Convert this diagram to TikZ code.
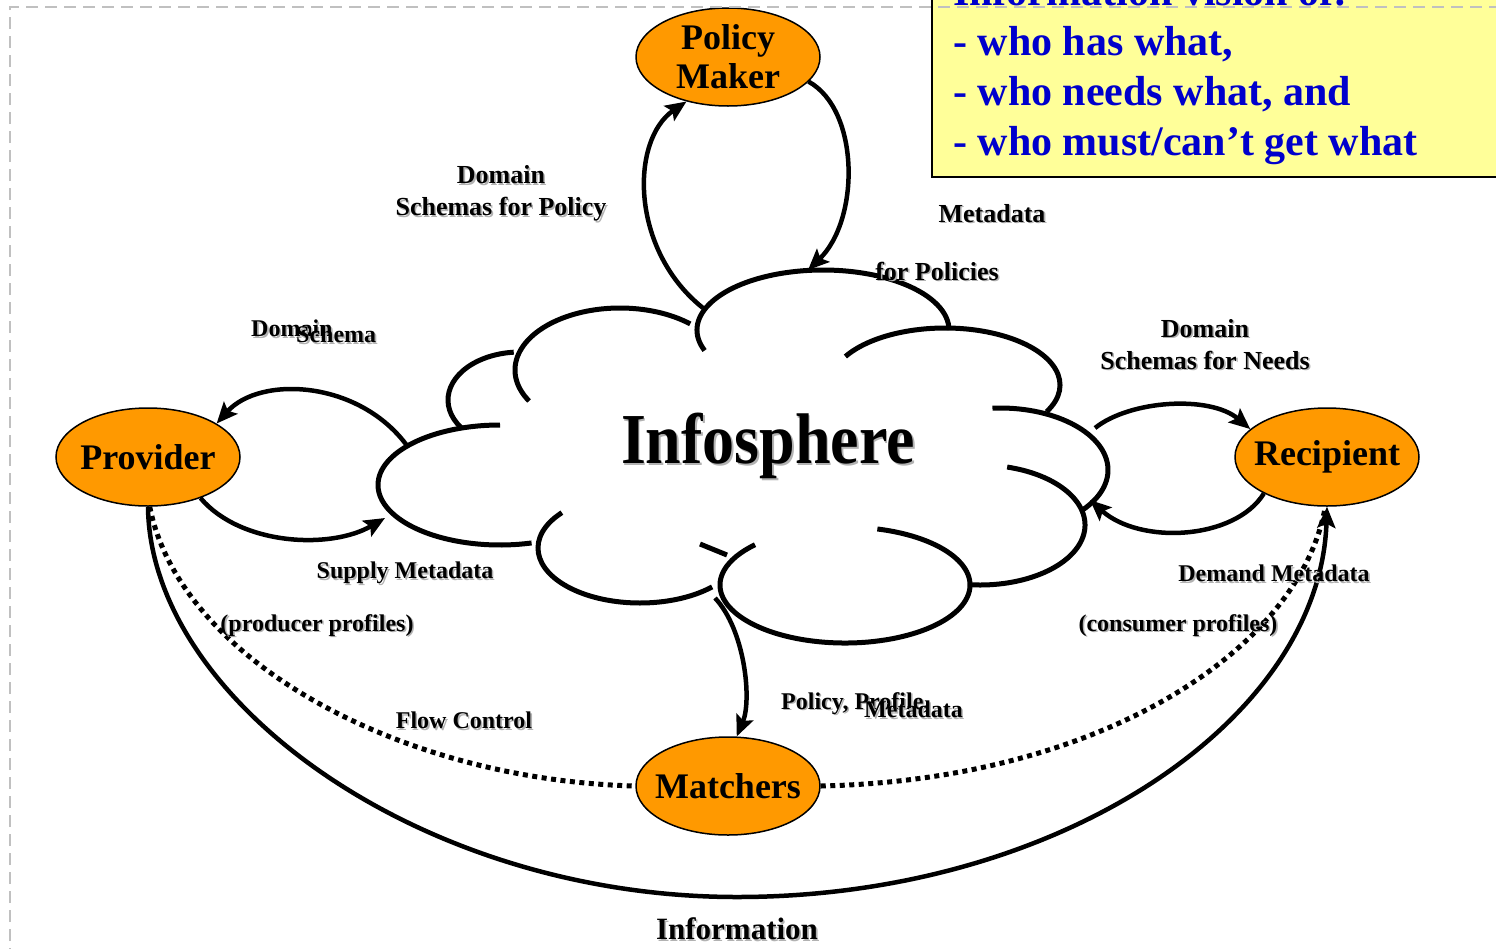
\documentclass[tikz,border=0pt]{standalone}
\usepackage{fontspec}
\setmainfont{Liberation Serif}
\usetikzlibrary{arrows.meta,shapes.geometric}

\definecolor{actorfill}{HTML}{FF9900}
\definecolor{notefill}{HTML}{FFFF99}
\definecolor{noteblue}{HTML}{0000CC}
\definecolor{framegray}{HTML}{C0C0C0}

\newcommand\shadowed[1]{\makebox[0pt][l]{\kern1.6pt\raisebox{-1.6pt}{\color{black!30}#1}}#1}

\tikzset{
    actor/.style={ellipse, draw, line width=1.5pt, fill=actorfill, minimum width=184pt,
        minimum height=98pt, inner xsep=-14pt, inner ysep=0pt, align=center,
        font=\fontsize{36}{39}\selectfont\bfseries},
    flow/.style={line width=4.5pt, -{Stealth[length=21pt,width=18pt,inset=4pt]}},
    dotflow/.style={line width=5pt, dash pattern=on 5pt off 4.5pt},
    cloudline/.style={line width=5pt},
    lab/.style={align=center, inner sep=0pt, font=\fontsize{24}{32}\selectfont\bfseries},
    toplab/.style={lab, font=\fontsize{26}{32}\selectfont\bfseries},
    note/.style={anchor=base west, inner sep=0pt, text=noteblue,
        font=\fontsize{42}{50}\selectfont\bfseries}
}

\begin{document}
\begin{tikzpicture}[x=1pt, y=-1pt]
    \path[use as bounding box] (0,0) rectangle (1496,948);
    \clip (0,0) rectangle (1496,948);

    \draw[line width=2.5pt, fill=notefill] (932,-20) rectangle (1520,177);
    \foreach \txt [count=\i from 0] in {{Information vision of:}, {- who has what,},
        {- who needs what, and}, {- who must/can’t get what}}
        \node[note] (note\i) at (953,5+50*\i) {\txt};

    \foreach \cx/\cy/\rx/\ry/\a/\b in {823/330/126/60/160/360, 945/385/115/57/210/388,
        1000/470/108/62/266/400, 980/525/105/60/285/455, 845/585/125/58/285/584,
        640/548/102/55/220/45, 500/485/122/60/270/75, 520/400/72/48/145/265,
        620/370/105/62/150/312}
        \draw[cloudline] (\cx,\cy) ++({\rx*cos(\a)},{\ry*sin(\a)})
            arc[start angle=\a, end angle=\b, x radius=\rx, y radius=\ry];
    \draw[cloudline] (700,544) -- (727,555);

    \node[font=\fontsize{64}{70}\selectfont\bfseries] (infosphere) at (768,447)
        {\scalebox{1}[1.12]{\shadowed{Infosphere}}};

    \node[actor] (policy) at (728,57) {Policy\\Maker};
    \node[actor] (provider) at (148,457) {Provider};
    \node[actor] (recipient) at (1327,457) {Recipient};
    \node[actor] (matchers) at (728,786) {Matchers};

    \coordinate (cPolOut) at (703,308);
    \coordinate (cPolIn) at (808,270);
    \coordinate (cProvOut) at (408,447);
    \coordinate (cProvIn) at (385,518);
    \coordinate (cRecOut) at (1095,428);
    \coordinate (cRecIn) at (1090,500);
    \coordinate (cMatch) at (715,598);

    \draw[flow] (cPolOut) .. controls (630,250) and (630,140) .. (policy.227);
    \draw[flow] (policy.-17) .. controls (860,110) and (860,220) .. (cPolIn);
    \draw[flow] (cProvOut) .. controls (360,380) and (260,375) .. (provider.26);
    \draw[flow] (provider.-38) .. controls (240,545) and (330,550) .. (cProvIn);
    \draw[flow] (cRecOut) .. controls (1130,400) and (1210,395) .. (recipient.160);
    \draw[flow] (recipient.-150) .. controls (1235,540) and (1140,545) .. (cRecIn);
    \draw[flow] (cMatch) .. controls (745,630) and (752,700) .. (matchers.80);
    \draw[flow] (provider.south) .. controls (150,700) and (420,897) .. (737,897)
        .. controls (1060,897) and (1320,720) .. (recipient.south);
    \draw[dotflow] (provider.-88) .. controls (180,660) and (400,780) .. (matchers.west);
    \draw[dotflow] (matchers.east) .. controls (1100,780) and (1300,650) .. (recipient.-92);

    \node[toplab] (lSchemaPol) at (501,194) {\shadowed{Domain}\\\shadowed{Schemas for Policy}};
    \node[toplab] (lMetaPol) at (992,214) {\shadowed{Metadata}};
    \node[toplab] (lForPol) at (937,272) {\shadowed{for Policies}};
    \node[lab, anchor=west] (lDomain) at (251,329) {\shadowed{Domain}};
    \node[lab, anchor=west] (lSchema) at (296,335) {\shadowed{Schema}};
    \node[toplab] (lSchemaNeed) at (1205,345) {\shadowed{Domain}\\\shadowed{Schemas for Needs}};
    \node[lab] (lSupply) at (405,574) {\shadowed{Supply Metadata}};
    \node[lab] (lProducer) at (317,626) {\shadowed{(producer profiles)}};
    \node[lab] (lDemand) at (1274,574) {\shadowed{Demand Metadata}};
    \node[lab] (lConsumer) at (1178,626) {\shadowed{(consumer profiles)}};
    \node[lab] (lFlow) at (464,721) {\shadowed{Flow Control}};
    \node[lab, anchor=west] (lProfile) at (781,704) {\shadowed{Policy, Profile,}};
    \node[lab, anchor=west] (lMetaMatch) at (864,710) {\shadowed{Metadata}};
    \node[lab, font=\fontsize{31}{36}\selectfont\bfseries] (lInfo) at (737,930) {\shadowed{Information}};

    \draw[framegray, line width=2.5pt, dash pattern=on 12pt off 7pt] (10,960) -- (10,7) -- (1510,7);
\end{tikzpicture}
\end{document}
